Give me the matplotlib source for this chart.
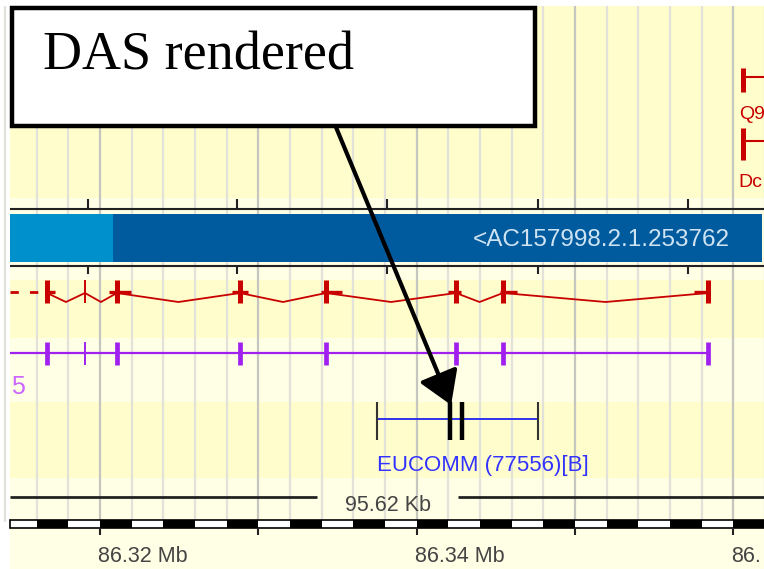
import numpy as np
import matplotlib
matplotlib.use("Agg")
import matplotlib.pyplot as plt
from matplotlib.patches import Rectangle

# Posicoes em Mb
view_start = 86.313683
view_end = 86.361947
px_per_mb = 15830.0

major_ticks = [86.32, 86.33, 86.34, 86.35, 86.36]
major_labels = ["86.32 Mb", "", "86.34 Mb", "", "86."]
contig_ticks = [86.31924, 86.32865, 86.33813, 86.34767, 86.35714]
contig_split = 86.32082
contig_label = "<AC157998.2.1.253762"

# exons do transcrito (vermelho) e do gene (roxo)
exons = [86.31665, 86.31905, 86.32107, 86.32884, 86.33428, 86.34249, 86.34546, 86.35841]
exon_thick = [True, False, True, True, True, True, True, True]
stub_left = [0.0, 0.0, 0.0005, 0.0005, 0.0003, 0.0005, 0.0002, 0.0009]
stub_right = [0.0005, 0.0, 0.0009, 0.0005, 0.0010, 0.0003, 0.0009, 0.0]

# feature DAS (EUCOMM)
eucomm_start = 86.33750
eucomm_end = 86.34767
eucomm_marks = [86.34211, 86.34287]
eucomm_label = "EUCOMM (77556)[B]"

scale_label = "95.62 Kb"
scale_gap = [86.33371, 86.34262]

red_right_x = 86.36060
red_right_labels = ["Q9", "Dc"]

RED = "#C80000"
PURPLE = "#A020F0"
YELLOW = "#FFFDCC"
LIGHT = "#FFFFE6"

def px(n):
    return n / px_per_mb

fig = plt.figure(figsize=(7.64, 5.69), dpi=100)
ax = fig.add_axes([0, 0, 1, 1])
ax.set_xlim(view_start, view_end)
ax.set_ylim(569, 0)
ax.axis("off")

left = view_start + px(10)

# fundo em faixas
bands = [(6, 198, YELLOW), (198, 262, LIGHT), (262, 280, LIGHT), (280, 338, YELLOW),
         (338, 402, LIGHT), (402, 478, YELLOW), (478, 569, LIGHT)]
for y0, y1, c in bands:
    ax.add_patch(Rectangle((left, y0), view_end - left, y1 - y0, color=c, lw=0, zorder=0))

# linhas verticais de grade
for g in np.arange(86.314, 86.3621, 0.002):
    dark = abs(g / 0.01 - round(g / 0.01)) < 1e-6
    ax.vlines(g, 6, 522, color="#C6C6C0" if dark else "#E2E2DA", lw=1.6, zorder=1)

# regua do contig e barra azul
ax.hlines([209, 266], left, view_end, color="#222222", lw=1.5, zorder=3)
ax.vlines(contig_ticks, 199, 209, color="#222222", lw=1.5, zorder=3)
ax.vlines(contig_ticks, 266, 274, color="#222222", lw=1.5, zorder=3)
ax.add_patch(Rectangle((left, 214), contig_split - left, 48, color="#0090CC", lw=0, zorder=2))
ax.add_patch(Rectangle((contig_split, 214), view_end - px(2) - contig_split, 48,
                       color="#005A9E", lw=0, zorder=2))
ax.text(86.35980, 240, contig_label, color="#CFE4F2", fontsize=17.5,
        family="Liberation Sans", ha="right", va="center", zorder=4)

# transcrito vermelho
ax.plot([left, exons[0] - px(8)], [292, 292], color=RED, lw=2, ls=(0, (3, 4)), zorder=3)
for a, b in zip(exons[:-1], exons[1:]):
    ax.plot([a, (a + b) / 2, b], [293, 302, 293], color=RED, lw=1.3, zorder=3)
for x, thick, sl, sr in zip(exons, exon_thick, stub_left, stub_right):
    ax.vlines(x, 280, 303, color=RED, lw=3.6 if thick else 1.4, zorder=4)
    if sl or sr:
        ax.hlines(292, x - sl, x + sr, color=RED, lw=2.4, zorder=4)

# gene roxo
ax.hlines(353, left, exons[-1], color=PURPLE, lw=1.6, zorder=3)
for x, thick in zip(exons, exon_thick):
    ax.vlines(x, 342, 365, color=PURPLE, lw=3.4 if thick else 1.4, zorder=4)
ax.text(left + px(15), 387, "5", color="#CC66FF", fontsize=18,
        family="Liberation Sans", ha="right", va="center", zorder=4)

# feature EUCOMM
ax.hlines(419, eucomm_start, eucomm_end, color="#2222EE", lw=1.3, zorder=3)
ax.vlines([eucomm_start, eucomm_end], 402, 440, color="#333333", lw=1.5, zorder=4)
ax.vlines(eucomm_marks, 402, 440, color="black", lw=3.2, zorder=4)
ax.text(eucomm_start, 465, eucomm_label, color="#3333FF", fontsize=16,
        family="Liberation Sans", ha="left", va="center", zorder=4)

# features vermelhas no canto superior direito
for yb, yt, lab in [(68, 92, red_right_labels[0]), (128, 160, red_right_labels[1])]:
    ax.vlines(red_right_x, yb, yt, color=RED, lw=3.6, zorder=4)
    ax.hlines((yb + yt) / 2 - 3, red_right_x, view_end, color=RED, lw=1.5, zorder=4)
    ax.text(red_right_x - px(4), yt + 22, lab, color=RED, fontsize=14,
            family="Liberation Sans", ha="left", va="center", zorder=4, clip_on=True)

# linha de escala
ax.hlines(497, left, scale_gap[0], color="#222222", lw=2, zorder=3)
ax.hlines(497, scale_gap[1], view_end, color="#222222", lw=2, zorder=3)
ax.text(sum(scale_gap) / 2, 505, scale_label, color="#444444", fontsize=15.5,
        family="Liberation Sans", ha="center", va="center", zorder=4)

# barra quadriculada
ax.add_patch(Rectangle((left, 520), view_end - left, 8, facecolor="white",
                       edgecolor="black", lw=1.2, zorder=3))
for s in np.arange(86.316, view_end, 0.004):
    ax.add_patch(Rectangle((s, 520), 0.002, 8, color="black", lw=0, zorder=4))
ax.vlines(major_ticks, 528, 535, color="#222222", lw=1.5, zorder=4)
for t, lab in zip(major_ticks, major_labels):
    if lab:
        ax.text(t - px(2), 557, lab, color="#444444", fontsize=15.5,
                family="Liberation Sans", ha="left", va="center", zorder=4, clip_on=True)

# caixa de anotacao e seta
ax.annotate("", xy=(86.34218, 405), xytext=(86.33472, 120),
            arrowprops=dict(arrowstyle="-|>,head_length=0.8,head_width=0.5",
                            color="black", lw=3, mutation_scale=25,
                            shrinkA=0, shrinkB=0), zorder=6)
ax.add_patch(Rectangle((left + px(2), 8), px(523), 118, facecolor="white",
                       edgecolor="black", lw=3.2, zorder=7))
ax.text(left + px(33), 56, "DAS rendered", color="black", fontsize=39,
        family="Liberation Serif", ha="left", va="center", zorder=8)

fig.savefig("out.png", dpi=100, facecolor="white")
